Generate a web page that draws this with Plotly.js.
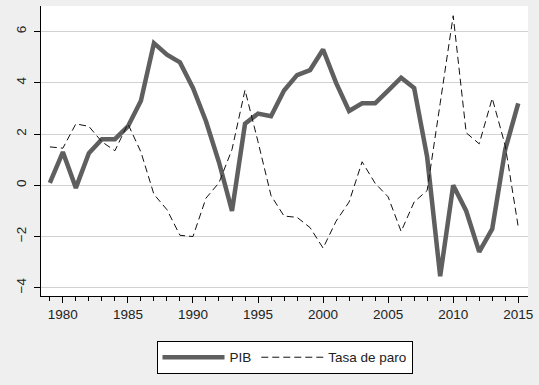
<!DOCTYPE html>
<html><head><meta charset="utf-8">
<script src="https://cdn.plot.ly/plotly-3.0.1.min.js"></script>
<style>html,body{margin:0;padding:0;background:#efefef;}</style>
</head><body><div id="chart" style="width:539px;height:385px;"></div>
<script>
const years = [1979,1980,1981,1982,1983,1984,1985,1986,1987,1988,1989,1990,1991,1992,1993,1994,1995,1996,1997,1998,1999,2000,2001,2002,2003,2004,2005,2006,2007,2008,2009,2010,2011,2012,2013,2014,2015];
const pib = [0.1,1.3,-0.1,1.25,1.8,1.8,2.3,3.3,5.55,5.1,4.8,3.8,2.5,0.9,-1.0,2.4,2.8,2.7,3.7,4.3,4.5,5.3,4.0,2.9,3.2,3.2,3.7,4.2,3.8,1.1,-3.55,0.0,-1.0,-2.6,-1.7,1.4,3.2];
const paro = [1.5,1.45,2.4,2.3,1.7,1.35,2.4,1.3,-0.35,-0.95,-1.95,-2.0,-0.5,0.1,1.4,3.72,1.7,-0.4,-1.2,-1.25,-1.65,-2.45,-1.4,-0.65,0.92,0.08,-0.45,-1.8,-0.65,-0.2,3.2,6.62,2.05,1.62,3.4,1.55,-1.62];
const seriesNames = ['PIB','Tasa de paro'];
const xTicks = [1980,1985,1990,1995,2000,2005,2010,2015];
const yTicks = [-4,-2,0,2,4,6];

const font = {family:'Liberation Sans, Arial, sans-serif', size:13.5, color:'#222'};
const traces = [
  {x:years, y:pib, name:seriesNames[0], type:'scatter', mode:'lines',
   line:{color:'#5f5f5f', width:4.5}},
  {x:years, y:paro, name:seriesNames[1], type:'scatter', mode:'lines',
   line:{color:'#111', width:1, dash:'7px,4px'}}
];
const layout = {
  width:539, height:385,
  paper_bgcolor:'#efefef', plot_bgcolor:'#ffffff',
  margin:{l:41, r:11, t:6, b:89},
  font:font,
  showlegend:true,
  xaxis:{range:[1978.32,2015.75], tickvals:xTicks, ticks:'outside', ticklen:6, tickcolor:'#000',
    showline:true, linecolor:'#000', linewidth:1, showgrid:false, zeroline:false,
    minor:{dtick:1, tick0:1979, ticks:'outside', ticklen:4, tickcolor:'#000', showgrid:false},
    tickfont:font},
  yaxis:{range:[-4.32,7.0], tickvals:yTicks, tickangle:-90, ticks:'outside', ticklen:6, tickcolor:'#000',
    showline:true, linecolor:'#000', linewidth:1, showgrid:true, gridcolor:'#d2d2d2', gridwidth:1,
    zeroline:false, tickfont:font, ticklabelstandoff:3},
  legend:{orientation:'h', x:0.5, xanchor:'center', y:-0.155, yanchor:'top',
    bordercolor:'#000', borderwidth:1, bgcolor:'#fff', font:font, itemwidth:62, traceorder:'normal'}
};
Plotly.newPlot('chart', traces, layout, {displayModeBar:false, staticPlot:true});
</script></body></html>
